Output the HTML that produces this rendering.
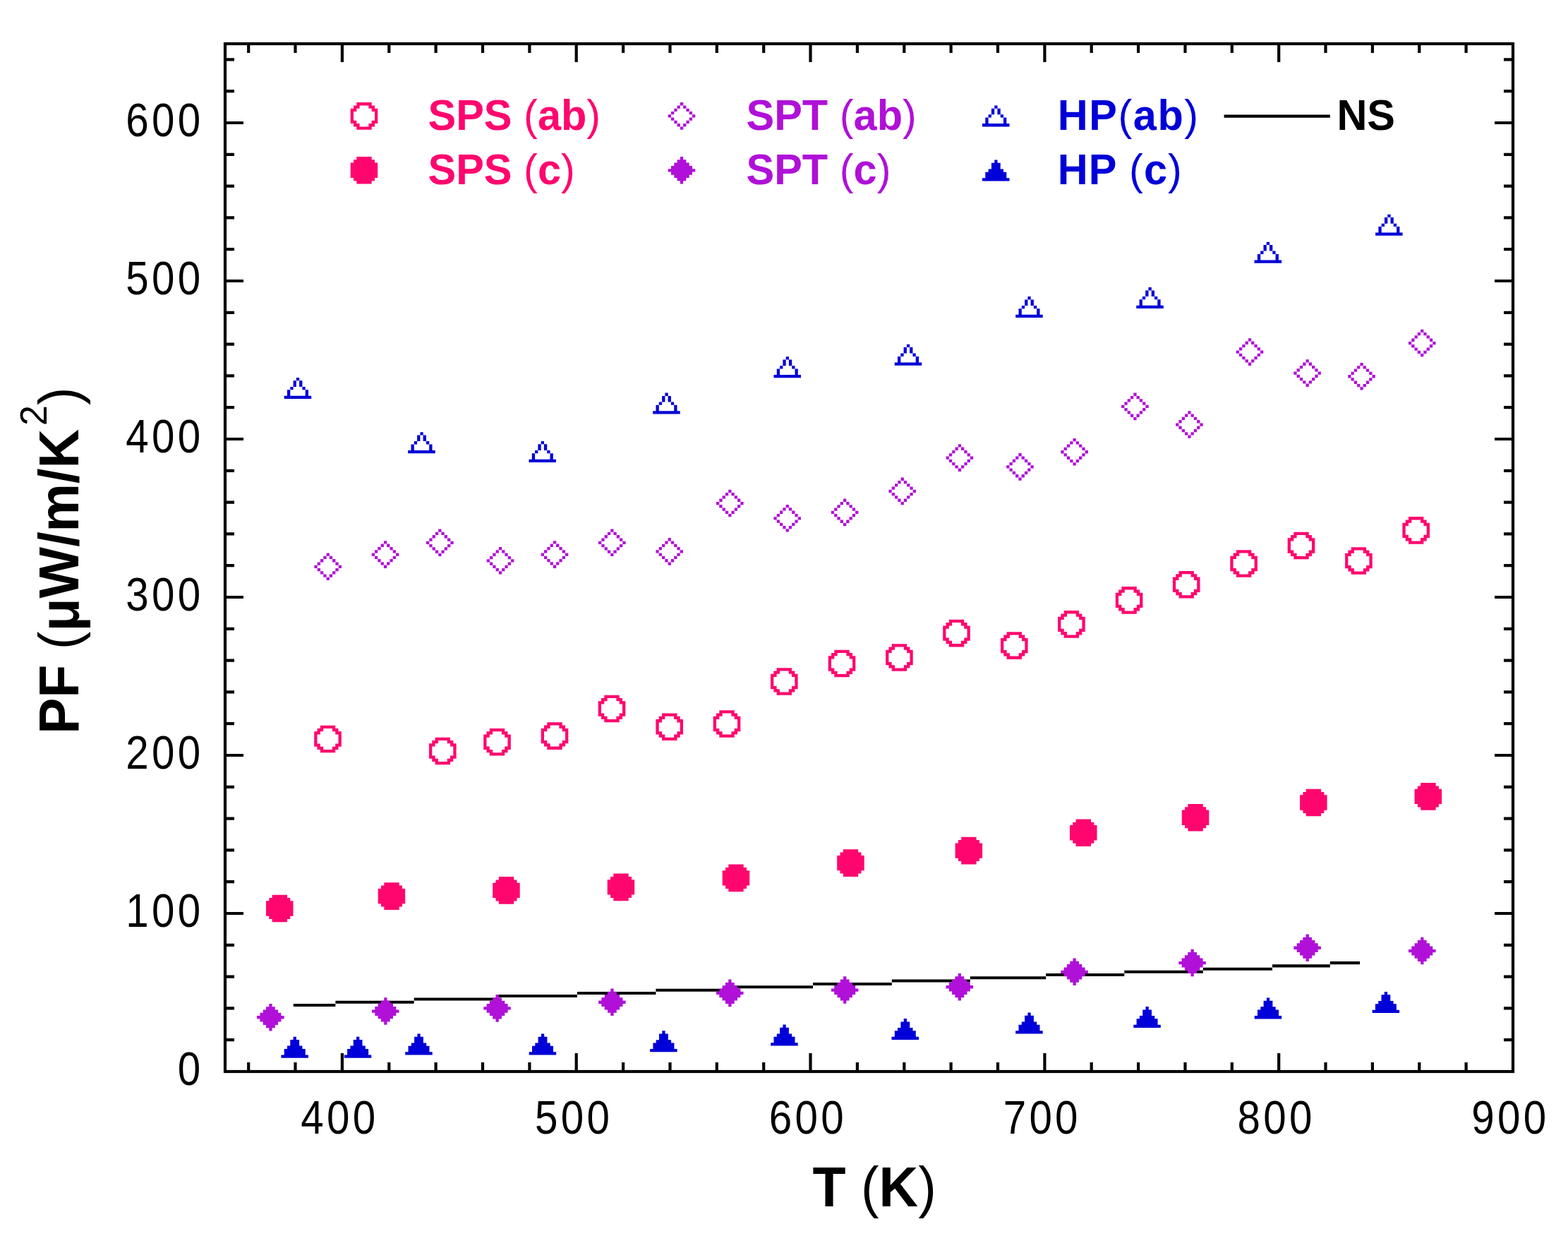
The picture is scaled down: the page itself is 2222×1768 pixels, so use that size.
<!DOCTYPE html>
<html><head><meta charset="utf-8"><title>PF vs T</title>
<style>
html,body{margin:0;padding:0;background:#fff;}
svg{display:block;}
</style></head>
<body>
<svg width="2222" height="1768" viewBox="0 0 2222 1768">
<rect width="2222" height="1768" fill="#fff"/>
<rect x="319" y="62" width="1825" height="1456" fill="none" stroke="#000" stroke-width="4.2"/>
<path d="M352.2 1518 v-13 M352.2 62 v13 M418.5 1518 v-13 M418.5 62 v13 M484.9 1518 v-26 M484.9 62 v26 M551.3 1518 v-13 M551.3 62 v13 M617.6 1518 v-13 M617.6 62 v13 M684.0 1518 v-13 M684.0 62 v13 M750.4 1518 v-13 M750.4 62 v13 M816.7 1518 v-26 M816.7 62 v26 M883.1 1518 v-13 M883.1 62 v13 M949.5 1518 v-13 M949.5 62 v13 M1015.8 1518 v-13 M1015.8 62 v13 M1082.2 1518 v-13 M1082.2 62 v13 M1148.5 1518 v-26 M1148.5 62 v26 M1214.9 1518 v-13 M1214.9 62 v13 M1281.3 1518 v-13 M1281.3 62 v13 M1347.6 1518 v-13 M1347.6 62 v13 M1414.0 1518 v-13 M1414.0 62 v13 M1480.4 1518 v-26 M1480.4 62 v26 M1546.7 1518 v-13 M1546.7 62 v13 M1613.1 1518 v-13 M1613.1 62 v13 M1679.5 1518 v-13 M1679.5 62 v13 M1745.8 1518 v-13 M1745.8 62 v13 M1812.2 1518 v-26 M1812.2 62 v26 M1878.5 1518 v-13 M1878.5 62 v13 M1944.9 1518 v-13 M1944.9 62 v13 M2011.3 1518 v-13 M2011.3 62 v13 M2077.6 1518 v-13 M2077.6 62 v13 M319 1473.2 h13 M2144 1473.2 h-13 M319 1428.4 h13 M2144 1428.4 h-13 M319 1383.6 h13 M2144 1383.6 h-13 M319 1338.8 h13 M2144 1338.8 h-13 M319 1294.0 h26 M2144 1294.0 h-26 M319 1249.2 h13 M2144 1249.2 h-13 M319 1204.4 h13 M2144 1204.4 h-13 M319 1159.6 h13 M2144 1159.6 h-13 M319 1114.8 h13 M2144 1114.8 h-13 M319 1070.0 h26 M2144 1070.0 h-26 M319 1025.2 h13 M2144 1025.2 h-13 M319 980.4 h13 M2144 980.4 h-13 M319 935.6 h13 M2144 935.6 h-13 M319 890.8 h13 M2144 890.8 h-13 M319 846.0 h26 M2144 846.0 h-26 M319 801.2 h13 M2144 801.2 h-13 M319 756.4 h13 M2144 756.4 h-13 M319 711.6 h13 M2144 711.6 h-13 M319 666.8 h13 M2144 666.8 h-13 M319 622.0 h26 M2144 622.0 h-26 M319 577.2 h13 M2144 577.2 h-13 M319 532.4 h13 M2144 532.4 h-13 M319 487.6 h13 M2144 487.6 h-13 M319 442.8 h13 M2144 442.8 h-13 M319 398.0 h26 M2144 398.0 h-26 M319 353.2 h13 M2144 353.2 h-13 M319 308.4 h13 M2144 308.4 h-13 M319 263.6 h13 M2144 263.6 h-13 M319 218.8 h13 M2144 218.8 h-13 M319 174.0 h26 M2144 174.0 h-26 M319 129.2 h13 M2144 129.2 h-13 M319 84.4 h13 M2144 84.4 h-13" stroke="#000" stroke-width="4.2" fill="none"/>
<g font-family="Liberation Sans, Arial, sans-serif" font-size="67" fill="#000">
<text transform="scale(0.87 1)" x="289.30" y="1537.0">0</text>
<text transform="scale(0.87 1)" x="204.94 247.12 289.30" y="1313.0">100</text>
<text transform="scale(0.87 1)" x="204.94 247.12 289.30" y="1089.0">200</text>
<text transform="scale(0.87 1)" x="204.94 247.12 289.30" y="865.0">300</text>
<text transform="scale(0.87 1)" x="204.94 247.12 289.30" y="641.0">400</text>
<text transform="scale(0.87 1)" x="204.94 247.12 289.30" y="417.0">500</text>
<text transform="scale(0.87 1)" x="204.94 247.12 289.30" y="193.0">600</text>
<text transform="scale(0.87 1)" x="489.94 532.12 574.30" y="1606.0">400</text>
<text transform="scale(0.87 1)" x="871.34 913.52 955.70" y="1606.0">500</text>
<text transform="scale(0.87 1)" x="1252.74 1294.92 1337.10" y="1606.0">600</text>
<text transform="scale(0.87 1)" x="1634.14 1676.32 1718.50" y="1606.0">700</text>
<text transform="scale(0.87 1)" x="2015.54 2057.72 2099.90" y="1606.0">800</text>
<text transform="scale(0.87 1)" x="2396.94 2439.12 2481.30" y="1606.0">900</text>
</g>
<path d="M415.8 1421.95H475.4v4.1H415.8zM475.4 1417.65H586.7v4.1H475.4zM586.7 1413.45H706.1v4.1H586.7zM706.1 1408.95H818v4.1H706.1zM818 1404.95H929.4v4.1H818zM929.4 1400.65H1040.5v4.1H929.4zM1040.5 1396.25H1152v4.1H1040.5zM1152 1391.95H1263.8v4.1H1152zM1263.8 1387.45H1374.8v4.1H1263.8zM1374.8 1383.15H1482.2v4.1H1374.8zM1482.2 1378.95H1593.3v4.1H1482.2zM1593.3 1374.75H1704.8v4.1H1593.3zM1704.8 1370.75H1803v4.1H1704.8zM1803 1366.35H1884.8v4.1H1803zM1884.8 1362.05H1927.1v4.1H1884.8z" fill="#000"/>
<path d="M453.8 1027.7h21.4v4.28h-21.4zM449.5 1032.0h8.6v4.28h-8.6zM470.9 1032.0h8.6v4.28h-8.6zM445.2 1036.3h8.6v4.28h-8.6zM475.2 1036.3h8.6v4.28h-8.6zM445.2 1040.6h4.3v4.28h-4.3zM479.5 1040.6h4.3v4.28h-4.3zM445.2 1044.9h4.3v4.28h-4.3zM479.5 1044.9h4.3v4.28h-4.3zM445.2 1049.1h4.3v4.28h-4.3zM479.5 1049.1h4.3v4.28h-4.3zM445.2 1053.4h8.6v4.28h-8.6zM475.2 1053.4h8.6v4.28h-8.6zM449.5 1057.7h8.6v4.28h-8.6zM470.9 1057.7h8.6v4.28h-8.6zM453.8 1062.0h21.4v4.28h-21.4z" fill="#ff066e"/>
<path d="M616.6 1044.7h21.4v4.28h-21.4zM612.3 1049.0h8.6v4.28h-8.6zM633.7 1049.0h8.6v4.28h-8.6zM608.0 1053.3h8.6v4.28h-8.6zM638.0 1053.3h8.6v4.28h-8.6zM608.0 1057.6h4.3v4.28h-4.3zM642.3 1057.6h4.3v4.28h-4.3zM608.0 1061.9h4.3v4.28h-4.3zM642.3 1061.9h4.3v4.28h-4.3zM608.0 1066.1h4.3v4.28h-4.3zM642.3 1066.1h4.3v4.28h-4.3zM608.0 1070.4h8.6v4.28h-8.6zM638.0 1070.4h8.6v4.28h-8.6zM612.3 1074.7h8.6v4.28h-8.6zM633.7 1074.7h8.6v4.28h-8.6zM616.6 1079.0h21.4v4.28h-21.4z" fill="#ff066e"/>
<path d="M693.8 1031.9h21.4v4.28h-21.4zM689.5 1036.2h8.6v4.28h-8.6zM710.9 1036.2h8.6v4.28h-8.6zM685.2 1040.5h8.6v4.28h-8.6zM715.2 1040.5h8.6v4.28h-8.6zM685.2 1044.8h4.3v4.28h-4.3zM719.5 1044.8h4.3v4.28h-4.3zM685.2 1049.1h4.3v4.28h-4.3zM719.5 1049.1h4.3v4.28h-4.3zM685.2 1053.3h4.3v4.28h-4.3zM719.5 1053.3h4.3v4.28h-4.3zM685.2 1057.6h8.6v4.28h-8.6zM715.2 1057.6h8.6v4.28h-8.6zM689.5 1061.9h8.6v4.28h-8.6zM710.9 1061.9h8.6v4.28h-8.6zM693.8 1066.2h21.4v4.28h-21.4z" fill="#ff066e"/>
<path d="M775.3 1023.3h21.4v4.28h-21.4zM771.0 1027.6h8.6v4.28h-8.6zM792.4 1027.6h8.6v4.28h-8.6zM766.7 1031.9h8.6v4.28h-8.6zM796.7 1031.9h8.6v4.28h-8.6zM766.7 1036.2h4.3v4.28h-4.3zM801.0 1036.2h4.3v4.28h-4.3zM766.7 1040.5h4.3v4.28h-4.3zM801.0 1040.5h4.3v4.28h-4.3zM766.7 1044.7h4.3v4.28h-4.3zM801.0 1044.7h4.3v4.28h-4.3zM766.7 1049.0h8.6v4.28h-8.6zM796.7 1049.0h8.6v4.28h-8.6zM771.0 1053.3h8.6v4.28h-8.6zM792.4 1053.3h8.6v4.28h-8.6zM775.3 1057.6h21.4v4.28h-21.4z" fill="#ff066e"/>
<path d="M856.3 984.7h21.4v4.28h-21.4zM852.0 989.0h8.6v4.28h-8.6zM873.4 989.0h8.6v4.28h-8.6zM847.7 993.3h8.6v4.28h-8.6zM877.7 993.3h8.6v4.28h-8.6zM847.7 997.6h4.3v4.28h-4.3zM882.0 997.6h4.3v4.28h-4.3zM847.7 1001.9h4.3v4.28h-4.3zM882.0 1001.9h4.3v4.28h-4.3zM847.7 1006.1h4.3v4.28h-4.3zM882.0 1006.1h4.3v4.28h-4.3zM847.7 1010.4h8.6v4.28h-8.6zM877.7 1010.4h8.6v4.28h-8.6zM852.0 1014.7h8.6v4.28h-8.6zM873.4 1014.7h8.6v4.28h-8.6zM856.3 1019.0h21.4v4.28h-21.4z" fill="#ff066e"/>
<path d="M938.0 1010.5h21.4v4.28h-21.4zM933.7 1014.8h8.6v4.28h-8.6zM955.1 1014.8h8.6v4.28h-8.6zM929.4 1019.1h8.6v4.28h-8.6zM959.4 1019.1h8.6v4.28h-8.6zM929.4 1023.4h4.3v4.28h-4.3zM963.7 1023.4h4.3v4.28h-4.3zM929.4 1027.7h4.3v4.28h-4.3zM963.7 1027.7h4.3v4.28h-4.3zM929.4 1031.9h4.3v4.28h-4.3zM963.7 1031.9h4.3v4.28h-4.3zM929.4 1036.2h8.6v4.28h-8.6zM959.4 1036.2h8.6v4.28h-8.6zM933.7 1040.5h8.6v4.28h-8.6zM955.1 1040.5h8.6v4.28h-8.6zM938.0 1044.8h21.4v4.28h-21.4z" fill="#ff066e"/>
<path d="M1019.3 1006.2h21.4v4.28h-21.4zM1015.0 1010.5h8.6v4.28h-8.6zM1036.4 1010.5h8.6v4.28h-8.6zM1010.7 1014.8h8.6v4.28h-8.6zM1040.7 1014.8h8.6v4.28h-8.6zM1010.7 1019.1h4.3v4.28h-4.3zM1045.0 1019.1h4.3v4.28h-4.3zM1010.7 1023.4h4.3v4.28h-4.3zM1045.0 1023.4h4.3v4.28h-4.3zM1010.7 1027.6h4.3v4.28h-4.3zM1045.0 1027.6h4.3v4.28h-4.3zM1010.7 1031.9h8.6v4.28h-8.6zM1040.7 1031.9h8.6v4.28h-8.6zM1015.0 1036.2h8.6v4.28h-8.6zM1036.4 1036.2h8.6v4.28h-8.6zM1019.3 1040.5h21.4v4.28h-21.4z" fill="#ff066e"/>
<path d="M1100.6 946.2h21.4v4.28h-21.4zM1096.3 950.5h8.6v4.28h-8.6zM1117.7 950.5h8.6v4.28h-8.6zM1092.0 954.8h8.6v4.28h-8.6zM1122.0 954.8h8.6v4.28h-8.6zM1092.0 959.1h4.3v4.28h-4.3zM1126.3 959.1h4.3v4.28h-4.3zM1092.0 963.4h4.3v4.28h-4.3zM1126.3 963.4h4.3v4.28h-4.3zM1092.0 967.6h4.3v4.28h-4.3zM1126.3 967.6h4.3v4.28h-4.3zM1092.0 971.9h8.6v4.28h-8.6zM1122.0 971.9h8.6v4.28h-8.6zM1096.3 976.2h8.6v4.28h-8.6zM1117.7 976.2h8.6v4.28h-8.6zM1100.6 980.5h21.4v4.28h-21.4z" fill="#ff066e"/>
<path d="M1182.3 920.7h21.4v4.28h-21.4zM1178.0 925.0h8.6v4.28h-8.6zM1199.4 925.0h8.6v4.28h-8.6zM1173.7 929.3h8.6v4.28h-8.6zM1203.7 929.3h8.6v4.28h-8.6zM1173.7 933.6h4.3v4.28h-4.3zM1208.0 933.6h4.3v4.28h-4.3zM1173.7 937.9h4.3v4.28h-4.3zM1208.0 937.9h4.3v4.28h-4.3zM1173.7 942.1h4.3v4.28h-4.3zM1208.0 942.1h4.3v4.28h-4.3zM1173.7 946.4h8.6v4.28h-8.6zM1203.7 946.4h8.6v4.28h-8.6zM1178.0 950.7h8.6v4.28h-8.6zM1199.4 950.7h8.6v4.28h-8.6zM1182.3 955.0h21.4v4.28h-21.4z" fill="#ff066e"/>
<path d="M1263.7 912.2h21.4v4.28h-21.4zM1259.4 916.5h8.6v4.28h-8.6zM1280.8 916.5h8.6v4.28h-8.6zM1255.1 920.8h8.6v4.28h-8.6zM1285.1 920.8h8.6v4.28h-8.6zM1255.1 925.1h4.3v4.28h-4.3zM1289.4 925.1h4.3v4.28h-4.3zM1255.1 929.4h4.3v4.28h-4.3zM1289.4 929.4h4.3v4.28h-4.3zM1255.1 933.6h4.3v4.28h-4.3zM1289.4 933.6h4.3v4.28h-4.3zM1255.1 937.9h8.6v4.28h-8.6zM1285.1 937.9h8.6v4.28h-8.6zM1259.4 942.2h8.6v4.28h-8.6zM1280.8 942.2h8.6v4.28h-8.6zM1263.7 946.5h21.4v4.28h-21.4z" fill="#ff066e"/>
<path d="M1344.8 877.8h21.4v4.28h-21.4zM1340.5 882.1h8.6v4.28h-8.6zM1361.9 882.1h8.6v4.28h-8.6zM1336.2 886.4h8.6v4.28h-8.6zM1366.2 886.4h8.6v4.28h-8.6zM1336.2 890.7h4.3v4.28h-4.3zM1370.5 890.7h4.3v4.28h-4.3zM1336.2 895.0h4.3v4.28h-4.3zM1370.5 895.0h4.3v4.28h-4.3zM1336.2 899.2h4.3v4.28h-4.3zM1370.5 899.2h4.3v4.28h-4.3zM1336.2 903.5h8.6v4.28h-8.6zM1366.2 903.5h8.6v4.28h-8.6zM1340.5 907.8h8.6v4.28h-8.6zM1361.9 907.8h8.6v4.28h-8.6zM1344.8 912.1h21.4v4.28h-21.4z" fill="#ff066e"/>
<path d="M1426.6 895.3h21.4v4.28h-21.4zM1422.3 899.6h8.6v4.28h-8.6zM1443.7 899.6h8.6v4.28h-8.6zM1418.0 903.9h8.6v4.28h-8.6zM1448.0 903.9h8.6v4.28h-8.6zM1418.0 908.2h4.3v4.28h-4.3zM1452.3 908.2h4.3v4.28h-4.3zM1418.0 912.5h4.3v4.28h-4.3zM1452.3 912.5h4.3v4.28h-4.3zM1418.0 916.7h4.3v4.28h-4.3zM1452.3 916.7h4.3v4.28h-4.3zM1418.0 921.0h8.6v4.28h-8.6zM1448.0 921.0h8.6v4.28h-8.6zM1422.3 925.3h8.6v4.28h-8.6zM1443.7 925.3h8.6v4.28h-8.6zM1426.6 929.6h21.4v4.28h-21.4z" fill="#ff066e"/>
<path d="M1507.7 865.1h21.4v4.28h-21.4zM1503.4 869.4h8.6v4.28h-8.6zM1524.8 869.4h8.6v4.28h-8.6zM1499.1 873.7h8.6v4.28h-8.6zM1529.1 873.7h8.6v4.28h-8.6zM1499.1 878.0h4.3v4.28h-4.3zM1533.4 878.0h4.3v4.28h-4.3zM1499.1 882.3h4.3v4.28h-4.3zM1533.4 882.3h4.3v4.28h-4.3zM1499.1 886.5h4.3v4.28h-4.3zM1533.4 886.5h4.3v4.28h-4.3zM1499.1 890.8h8.6v4.28h-8.6zM1529.1 890.8h8.6v4.28h-8.6zM1503.4 895.1h8.6v4.28h-8.6zM1524.8 895.1h8.6v4.28h-8.6zM1507.7 899.4h21.4v4.28h-21.4z" fill="#ff066e"/>
<path d="M1589.4 831.1h21.4v4.28h-21.4zM1585.1 835.4h8.6v4.28h-8.6zM1606.5 835.4h8.6v4.28h-8.6zM1580.8 839.7h8.6v4.28h-8.6zM1610.8 839.7h8.6v4.28h-8.6zM1580.8 844.0h4.3v4.28h-4.3zM1615.1 844.0h4.3v4.28h-4.3zM1580.8 848.3h4.3v4.28h-4.3zM1615.1 848.3h4.3v4.28h-4.3zM1580.8 852.5h4.3v4.28h-4.3zM1615.1 852.5h4.3v4.28h-4.3zM1580.8 856.8h8.6v4.28h-8.6zM1610.8 856.8h8.6v4.28h-8.6zM1585.1 861.1h8.6v4.28h-8.6zM1606.5 861.1h8.6v4.28h-8.6zM1589.4 865.4h21.4v4.28h-21.4z" fill="#ff066e"/>
<path d="M1670.5 809.0h21.4v4.28h-21.4zM1666.2 813.3h8.6v4.28h-8.6zM1687.6 813.3h8.6v4.28h-8.6zM1661.9 817.6h8.6v4.28h-8.6zM1691.9 817.6h8.6v4.28h-8.6zM1661.9 821.9h4.3v4.28h-4.3zM1696.2 821.9h4.3v4.28h-4.3zM1661.9 826.2h4.3v4.28h-4.3zM1696.2 826.2h4.3v4.28h-4.3zM1661.9 830.4h4.3v4.28h-4.3zM1696.2 830.4h4.3v4.28h-4.3zM1661.9 834.7h8.6v4.28h-8.6zM1691.9 834.7h8.6v4.28h-8.6zM1666.2 839.0h8.6v4.28h-8.6zM1687.6 839.0h8.6v4.28h-8.6zM1670.5 843.3h21.4v4.28h-21.4z" fill="#ff066e"/>
<path d="M1751.9 779.2h21.4v4.28h-21.4zM1747.6 783.5h8.6v4.28h-8.6zM1769.0 783.5h8.6v4.28h-8.6zM1743.3 787.8h8.6v4.28h-8.6zM1773.3 787.8h8.6v4.28h-8.6zM1743.3 792.1h4.3v4.28h-4.3zM1777.6 792.1h4.3v4.28h-4.3zM1743.3 796.4h4.3v4.28h-4.3zM1777.6 796.4h4.3v4.28h-4.3zM1743.3 800.6h4.3v4.28h-4.3zM1777.6 800.6h4.3v4.28h-4.3zM1743.3 804.9h8.6v4.28h-8.6zM1773.3 804.9h8.6v4.28h-8.6zM1747.6 809.2h8.6v4.28h-8.6zM1769.0 809.2h8.6v4.28h-8.6zM1751.9 813.5h21.4v4.28h-21.4z" fill="#ff066e"/>
<path d="M1833.3 753.7h21.4v4.28h-21.4zM1829.0 758.0h8.6v4.28h-8.6zM1850.4 758.0h8.6v4.28h-8.6zM1824.7 762.3h8.6v4.28h-8.6zM1854.7 762.3h8.6v4.28h-8.6zM1824.7 766.6h4.3v4.28h-4.3zM1859.0 766.6h4.3v4.28h-4.3zM1824.7 770.9h4.3v4.28h-4.3zM1859.0 770.9h4.3v4.28h-4.3zM1824.7 775.1h4.3v4.28h-4.3zM1859.0 775.1h4.3v4.28h-4.3zM1824.7 779.4h8.6v4.28h-8.6zM1854.7 779.4h8.6v4.28h-8.6zM1829.0 783.7h8.6v4.28h-8.6zM1850.4 783.7h8.6v4.28h-8.6zM1833.3 788.0h21.4v4.28h-21.4z" fill="#ff066e"/>
<path d="M1914.7 775.2h21.4v4.28h-21.4zM1910.4 779.5h8.6v4.28h-8.6zM1931.8 779.5h8.6v4.28h-8.6zM1906.1 783.8h8.6v4.28h-8.6zM1936.1 783.8h8.6v4.28h-8.6zM1906.1 788.1h4.3v4.28h-4.3zM1940.4 788.1h4.3v4.28h-4.3zM1906.1 792.4h4.3v4.28h-4.3zM1940.4 792.4h4.3v4.28h-4.3zM1906.1 796.6h4.3v4.28h-4.3zM1940.4 796.6h4.3v4.28h-4.3zM1906.1 800.9h8.6v4.28h-8.6zM1936.1 800.9h8.6v4.28h-8.6zM1910.4 805.2h8.6v4.28h-8.6zM1931.8 805.2h8.6v4.28h-8.6zM1914.7 809.5h21.4v4.28h-21.4z" fill="#ff066e"/>
<path d="M1996.0 732.1h21.4v4.28h-21.4zM1991.7 736.4h8.6v4.28h-8.6zM2013.1 736.4h8.6v4.28h-8.6zM1987.4 740.7h8.6v4.28h-8.6zM2017.4 740.7h8.6v4.28h-8.6zM1987.4 745.0h4.3v4.28h-4.3zM2021.7 745.0h4.3v4.28h-4.3zM1987.4 749.3h4.3v4.28h-4.3zM2021.7 749.3h4.3v4.28h-4.3zM1987.4 753.5h4.3v4.28h-4.3zM2021.7 753.5h4.3v4.28h-4.3zM1987.4 757.8h8.6v4.28h-8.6zM2017.4 757.8h8.6v4.28h-8.6zM1991.7 762.1h8.6v4.28h-8.6zM2013.1 762.1h8.6v4.28h-8.6zM1996.0 766.4h21.4v4.28h-21.4z" fill="#ff066e"/>
<path d="M385.6 1267.7h21.4v4.28h-21.4zM381.3 1272.0h30.0v4.28h-30.0zM377.0 1276.3h38.5v4.28h-38.5zM377.0 1280.6h38.5v4.28h-38.5zM377.0 1284.9h38.5v4.28h-38.5zM377.0 1289.1h38.5v4.28h-38.5zM377.0 1293.4h38.5v4.28h-38.5zM381.3 1297.7h30.0v4.28h-30.0zM385.6 1302.0h21.4v4.28h-21.4z" fill="#ff066e"/>
<path d="M544.3 1250.3h21.4v4.28h-21.4zM540.0 1254.6h30.0v4.28h-30.0zM535.7 1258.9h38.5v4.28h-38.5zM535.7 1263.2h38.5v4.28h-38.5zM535.7 1267.5h38.5v4.28h-38.5zM535.7 1271.7h38.5v4.28h-38.5zM535.7 1276.0h38.5v4.28h-38.5zM540.0 1280.3h30.0v4.28h-30.0zM544.3 1284.6h21.4v4.28h-21.4z" fill="#ff066e"/>
<path d="M706.8 1242.1h21.4v4.28h-21.4zM702.5 1246.4h30.0v4.28h-30.0zM698.2 1250.7h38.5v4.28h-38.5zM698.2 1255.0h38.5v4.28h-38.5zM698.2 1259.3h38.5v4.28h-38.5zM698.2 1263.5h38.5v4.28h-38.5zM698.2 1267.8h38.5v4.28h-38.5zM702.5 1272.1h30.0v4.28h-30.0zM706.8 1276.4h21.4v4.28h-21.4z" fill="#ff066e"/>
<path d="M869.3 1237.6h21.4v4.28h-21.4zM865.0 1241.9h30.0v4.28h-30.0zM860.7 1246.2h38.5v4.28h-38.5zM860.7 1250.5h38.5v4.28h-38.5zM860.7 1254.8h38.5v4.28h-38.5zM860.7 1259.0h38.5v4.28h-38.5zM860.7 1263.3h38.5v4.28h-38.5zM865.0 1267.6h30.0v4.28h-30.0zM869.3 1271.9h21.4v4.28h-21.4z" fill="#ff066e"/>
<path d="M1032.3 1224.6h21.4v4.28h-21.4zM1028.0 1228.9h30.0v4.28h-30.0zM1023.7 1233.2h38.5v4.28h-38.5zM1023.7 1237.5h38.5v4.28h-38.5zM1023.7 1241.8h38.5v4.28h-38.5zM1023.7 1246.0h38.5v4.28h-38.5zM1023.7 1250.3h38.5v4.28h-38.5zM1028.0 1254.6h30.0v4.28h-30.0zM1032.3 1258.9h21.4v4.28h-21.4z" fill="#ff066e"/>
<path d="M1194.8 1203.3h21.4v4.28h-21.4zM1190.5 1207.6h30.0v4.28h-30.0zM1186.2 1211.9h38.5v4.28h-38.5zM1186.2 1216.2h38.5v4.28h-38.5zM1186.2 1220.5h38.5v4.28h-38.5zM1186.2 1224.7h38.5v4.28h-38.5zM1186.2 1229.0h38.5v4.28h-38.5zM1190.5 1233.3h30.0v4.28h-30.0zM1194.8 1237.6h21.4v4.28h-21.4z" fill="#ff066e"/>
<path d="M1362.2 1185.8h21.4v4.28h-21.4zM1357.9 1190.1h30.0v4.28h-30.0zM1353.6 1194.4h38.5v4.28h-38.5zM1353.6 1198.7h38.5v4.28h-38.5zM1353.6 1203.0h38.5v4.28h-38.5zM1353.6 1207.2h38.5v4.28h-38.5zM1353.6 1211.5h38.5v4.28h-38.5zM1357.9 1215.8h30.0v4.28h-30.0zM1362.2 1220.1h21.4v4.28h-21.4z" fill="#ff066e"/>
<path d="M1524.6 1160.5h21.4v4.28h-21.4zM1520.3 1164.8h30.0v4.28h-30.0zM1516.0 1169.1h38.5v4.28h-38.5zM1516.0 1173.4h38.5v4.28h-38.5zM1516.0 1177.7h38.5v4.28h-38.5zM1516.0 1181.9h38.5v4.28h-38.5zM1516.0 1186.2h38.5v4.28h-38.5zM1520.3 1190.5h30.0v4.28h-30.0zM1524.6 1194.8h21.4v4.28h-21.4z" fill="#ff066e"/>
<path d="M1683.4 1138.9h21.4v4.28h-21.4zM1679.1 1143.2h30.0v4.28h-30.0zM1674.8 1147.5h38.5v4.28h-38.5zM1674.8 1151.8h38.5v4.28h-38.5zM1674.8 1156.1h38.5v4.28h-38.5zM1674.8 1160.3h38.5v4.28h-38.5zM1674.8 1164.6h38.5v4.28h-38.5zM1679.1 1168.9h30.0v4.28h-30.0zM1683.4 1173.2h21.4v4.28h-21.4z" fill="#ff066e"/>
<path d="M1850.7 1117.7h21.4v4.28h-21.4zM1846.4 1122.0h30.0v4.28h-30.0zM1842.1 1126.3h38.5v4.28h-38.5zM1842.1 1130.6h38.5v4.28h-38.5zM1842.1 1134.9h38.5v4.28h-38.5zM1842.1 1139.1h38.5v4.28h-38.5zM1842.1 1143.4h38.5v4.28h-38.5zM1846.4 1147.7h30.0v4.28h-30.0zM1850.7 1152.0h21.4v4.28h-21.4z" fill="#ff066e"/>
<path d="M2013.2 1109.1h21.4v4.28h-21.4zM2008.9 1113.4h30.0v4.28h-30.0zM2004.6 1117.7h38.5v4.28h-38.5zM2004.6 1122.0h38.5v4.28h-38.5zM2004.6 1126.3h38.5v4.28h-38.5zM2004.6 1130.5h38.5v4.28h-38.5zM2004.6 1134.8h38.5v4.28h-38.5zM2008.9 1139.1h30.0v4.28h-30.0zM2013.2 1143.4h21.4v4.28h-21.4z" fill="#ff066e"/>
<path d="M462.6 783.5h4.3v4.28h-4.3zM458.3 787.8h4.3v4.28h-4.3zM466.8 787.8h4.3v4.28h-4.3zM454.0 792.1h4.3v4.28h-4.3zM471.1 792.1h4.3v4.28h-4.3zM449.7 796.4h4.3v4.28h-4.3zM475.4 796.4h4.3v4.28h-4.3zM445.4 800.7h4.3v4.28h-4.3zM479.7 800.7h4.3v4.28h-4.3zM449.7 804.9h4.3v4.28h-4.3zM475.4 804.9h4.3v4.28h-4.3zM454.0 809.2h4.3v4.28h-4.3zM471.1 809.2h4.3v4.28h-4.3zM458.3 813.5h4.3v4.28h-4.3zM466.8 813.5h4.3v4.28h-4.3zM462.6 817.8h4.3v4.28h-4.3z" fill="#b010d8"/>
<path d="M543.9 766.3h4.3v4.28h-4.3zM539.6 770.6h4.3v4.28h-4.3zM548.1 770.6h4.3v4.28h-4.3zM535.3 774.9h4.3v4.28h-4.3zM552.4 774.9h4.3v4.28h-4.3zM531.0 779.2h4.3v4.28h-4.3zM556.7 779.2h4.3v4.28h-4.3zM526.7 783.5h4.3v4.28h-4.3zM561.0 783.5h4.3v4.28h-4.3zM531.0 787.7h4.3v4.28h-4.3zM556.7 787.7h4.3v4.28h-4.3zM535.3 792.0h4.3v4.28h-4.3zM552.4 792.0h4.3v4.28h-4.3zM539.6 796.3h4.3v4.28h-4.3zM548.1 796.3h4.3v4.28h-4.3zM543.9 800.6h4.3v4.28h-4.3z" fill="#b010d8"/>
<path d="M621.2 749.5h4.3v4.28h-4.3zM616.9 753.8h4.3v4.28h-4.3zM625.4 753.8h4.3v4.28h-4.3zM612.6 758.1h4.3v4.28h-4.3zM629.7 758.1h4.3v4.28h-4.3zM608.3 762.4h4.3v4.28h-4.3zM634.0 762.4h4.3v4.28h-4.3zM604.0 766.7h4.3v4.28h-4.3zM638.3 766.7h4.3v4.28h-4.3zM608.3 770.9h4.3v4.28h-4.3zM634.0 770.9h4.3v4.28h-4.3zM612.6 775.2h4.3v4.28h-4.3zM629.7 775.2h4.3v4.28h-4.3zM616.9 779.5h4.3v4.28h-4.3zM625.4 779.5h4.3v4.28h-4.3zM621.2 783.8h4.3v4.28h-4.3z" fill="#b010d8"/>
<path d="M706.9 775.0h4.3v4.28h-4.3zM702.6 779.3h4.3v4.28h-4.3zM711.1 779.3h4.3v4.28h-4.3zM698.3 783.6h4.3v4.28h-4.3zM715.4 783.6h4.3v4.28h-4.3zM694.0 787.9h4.3v4.28h-4.3zM719.7 787.9h4.3v4.28h-4.3zM689.7 792.2h4.3v4.28h-4.3zM724.0 792.2h4.3v4.28h-4.3zM694.0 796.4h4.3v4.28h-4.3zM719.7 796.4h4.3v4.28h-4.3zM698.3 800.7h4.3v4.28h-4.3zM715.4 800.7h4.3v4.28h-4.3zM702.6 805.0h4.3v4.28h-4.3zM711.1 805.0h4.3v4.28h-4.3zM706.9 809.3h4.3v4.28h-4.3z" fill="#b010d8"/>
<path d="M783.9 766.3h4.3v4.28h-4.3zM779.6 770.6h4.3v4.28h-4.3zM788.1 770.6h4.3v4.28h-4.3zM775.3 774.9h4.3v4.28h-4.3zM792.4 774.9h4.3v4.28h-4.3zM771.0 779.2h4.3v4.28h-4.3zM796.7 779.2h4.3v4.28h-4.3zM766.7 783.5h4.3v4.28h-4.3zM801.0 783.5h4.3v4.28h-4.3zM771.0 787.7h4.3v4.28h-4.3zM796.7 787.7h4.3v4.28h-4.3zM775.3 792.0h4.3v4.28h-4.3zM792.4 792.0h4.3v4.28h-4.3zM779.6 796.3h4.3v4.28h-4.3zM788.1 796.3h4.3v4.28h-4.3zM783.9 800.6h4.3v4.28h-4.3z" fill="#b010d8"/>
<path d="M865.2 749.5h4.3v4.28h-4.3zM860.9 753.8h4.3v4.28h-4.3zM869.4 753.8h4.3v4.28h-4.3zM856.6 758.1h4.3v4.28h-4.3zM873.7 758.1h4.3v4.28h-4.3zM852.3 762.4h4.3v4.28h-4.3zM878.0 762.4h4.3v4.28h-4.3zM848.0 766.7h4.3v4.28h-4.3zM882.3 766.7h4.3v4.28h-4.3zM852.3 770.9h4.3v4.28h-4.3zM878.0 770.9h4.3v4.28h-4.3zM856.6 775.2h4.3v4.28h-4.3zM873.7 775.2h4.3v4.28h-4.3zM860.9 779.5h4.3v4.28h-4.3zM869.4 779.5h4.3v4.28h-4.3zM865.2 783.8h4.3v4.28h-4.3z" fill="#b010d8"/>
<path d="M946.6 762.1h4.3v4.28h-4.3zM942.3 766.4h4.3v4.28h-4.3zM950.8 766.4h4.3v4.28h-4.3zM938.0 770.7h4.3v4.28h-4.3zM955.1 770.7h4.3v4.28h-4.3zM933.7 775.0h4.3v4.28h-4.3zM959.4 775.0h4.3v4.28h-4.3zM929.4 779.3h4.3v4.28h-4.3zM963.7 779.3h4.3v4.28h-4.3zM933.7 783.5h4.3v4.28h-4.3zM959.4 783.5h4.3v4.28h-4.3zM938.0 787.8h4.3v4.28h-4.3zM955.1 787.8h4.3v4.28h-4.3zM942.3 792.1h4.3v4.28h-4.3zM950.8 792.1h4.3v4.28h-4.3zM946.6 796.4h4.3v4.28h-4.3z" fill="#b010d8"/>
<path d="M1032.2 693.7h4.3v4.28h-4.3zM1027.9 698.0h4.3v4.28h-4.3zM1036.4 698.0h4.3v4.28h-4.3zM1023.6 702.3h4.3v4.28h-4.3zM1040.7 702.3h4.3v4.28h-4.3zM1019.3 706.6h4.3v4.28h-4.3zM1045.0 706.6h4.3v4.28h-4.3zM1015.0 710.9h4.3v4.28h-4.3zM1049.3 710.9h4.3v4.28h-4.3zM1019.3 715.1h4.3v4.28h-4.3zM1045.0 715.1h4.3v4.28h-4.3zM1023.6 719.4h4.3v4.28h-4.3zM1040.7 719.4h4.3v4.28h-4.3zM1027.9 723.7h4.3v4.28h-4.3zM1036.4 723.7h4.3v4.28h-4.3zM1032.2 728.0h4.3v4.28h-4.3z" fill="#b010d8"/>
<path d="M1113.6 715.0h4.3v4.28h-4.3zM1109.3 719.3h4.3v4.28h-4.3zM1117.8 719.3h4.3v4.28h-4.3zM1105.0 723.6h4.3v4.28h-4.3zM1122.1 723.6h4.3v4.28h-4.3zM1100.7 727.9h4.3v4.28h-4.3zM1126.4 727.9h4.3v4.28h-4.3zM1096.4 732.2h4.3v4.28h-4.3zM1130.7 732.2h4.3v4.28h-4.3zM1100.7 736.4h4.3v4.28h-4.3zM1126.4 736.4h4.3v4.28h-4.3zM1105.0 740.7h4.3v4.28h-4.3zM1122.1 740.7h4.3v4.28h-4.3zM1109.3 745.0h4.3v4.28h-4.3zM1117.8 745.0h4.3v4.28h-4.3zM1113.6 749.3h4.3v4.28h-4.3z" fill="#b010d8"/>
<path d="M1195.0 706.6h4.3v4.28h-4.3zM1190.7 710.9h4.3v4.28h-4.3zM1199.2 710.9h4.3v4.28h-4.3zM1186.4 715.2h4.3v4.28h-4.3zM1203.5 715.2h4.3v4.28h-4.3zM1182.1 719.5h4.3v4.28h-4.3zM1207.8 719.5h4.3v4.28h-4.3zM1177.8 723.8h4.3v4.28h-4.3zM1212.1 723.8h4.3v4.28h-4.3zM1182.1 728.0h4.3v4.28h-4.3zM1207.8 728.0h4.3v4.28h-4.3zM1186.4 732.3h4.3v4.28h-4.3zM1203.5 732.3h4.3v4.28h-4.3zM1190.7 736.6h4.3v4.28h-4.3zM1199.2 736.6h4.3v4.28h-4.3zM1195.0 740.9h4.3v4.28h-4.3z" fill="#b010d8"/>
<path d="M1276.6 676.6h4.3v4.28h-4.3zM1272.3 680.9h4.3v4.28h-4.3zM1280.8 680.9h4.3v4.28h-4.3zM1268.0 685.2h4.3v4.28h-4.3zM1285.1 685.2h4.3v4.28h-4.3zM1263.7 689.5h4.3v4.28h-4.3zM1289.4 689.5h4.3v4.28h-4.3zM1259.4 693.8h4.3v4.28h-4.3zM1293.7 693.8h4.3v4.28h-4.3zM1263.7 698.0h4.3v4.28h-4.3zM1289.4 698.0h4.3v4.28h-4.3zM1268.0 702.3h4.3v4.28h-4.3zM1285.1 702.3h4.3v4.28h-4.3zM1272.3 706.6h4.3v4.28h-4.3zM1280.8 706.6h4.3v4.28h-4.3zM1276.6 710.9h4.3v4.28h-4.3z" fill="#b010d8"/>
<path d="M1357.8 629.3h4.3v4.28h-4.3zM1353.5 633.6h4.3v4.28h-4.3zM1362.0 633.6h4.3v4.28h-4.3zM1349.2 637.9h4.3v4.28h-4.3zM1366.3 637.9h4.3v4.28h-4.3zM1344.9 642.2h4.3v4.28h-4.3zM1370.6 642.2h4.3v4.28h-4.3zM1340.6 646.5h4.3v4.28h-4.3zM1374.9 646.5h4.3v4.28h-4.3zM1344.9 650.7h4.3v4.28h-4.3zM1370.6 650.7h4.3v4.28h-4.3zM1349.2 655.0h4.3v4.28h-4.3zM1366.3 655.0h4.3v4.28h-4.3zM1353.5 659.3h4.3v4.28h-4.3zM1362.0 659.3h4.3v4.28h-4.3zM1357.8 663.6h4.3v4.28h-4.3z" fill="#b010d8"/>
<path d="M1443.4 642.1h4.3v4.28h-4.3zM1439.1 646.4h4.3v4.28h-4.3zM1447.6 646.4h4.3v4.28h-4.3zM1434.8 650.7h4.3v4.28h-4.3zM1451.9 650.7h4.3v4.28h-4.3zM1430.5 655.0h4.3v4.28h-4.3zM1456.2 655.0h4.3v4.28h-4.3zM1426.2 659.3h4.3v4.28h-4.3zM1460.5 659.3h4.3v4.28h-4.3zM1430.5 663.5h4.3v4.28h-4.3zM1456.2 663.5h4.3v4.28h-4.3zM1434.8 667.8h4.3v4.28h-4.3zM1451.9 667.8h4.3v4.28h-4.3zM1439.1 672.1h4.3v4.28h-4.3zM1447.6 672.1h4.3v4.28h-4.3zM1443.4 676.4h4.3v4.28h-4.3z" fill="#b010d8"/>
<path d="M1520.5 620.9h4.3v4.28h-4.3zM1516.2 625.2h4.3v4.28h-4.3zM1524.7 625.2h4.3v4.28h-4.3zM1511.9 629.5h4.3v4.28h-4.3zM1529.0 629.5h4.3v4.28h-4.3zM1507.6 633.8h4.3v4.28h-4.3zM1533.3 633.8h4.3v4.28h-4.3zM1503.3 638.1h4.3v4.28h-4.3zM1537.6 638.1h4.3v4.28h-4.3zM1507.6 642.3h4.3v4.28h-4.3zM1533.3 642.3h4.3v4.28h-4.3zM1511.9 646.6h4.3v4.28h-4.3zM1529.0 646.6h4.3v4.28h-4.3zM1516.2 650.9h4.3v4.28h-4.3zM1524.7 650.9h4.3v4.28h-4.3zM1520.5 655.2h4.3v4.28h-4.3z" fill="#b010d8"/>
<path d="M1606.3 556.6h4.3v4.28h-4.3zM1602.0 560.9h4.3v4.28h-4.3zM1610.5 560.9h4.3v4.28h-4.3zM1597.7 565.2h4.3v4.28h-4.3zM1614.8 565.2h4.3v4.28h-4.3zM1593.4 569.5h4.3v4.28h-4.3zM1619.1 569.5h4.3v4.28h-4.3zM1589.1 573.8h4.3v4.28h-4.3zM1623.4 573.8h4.3v4.28h-4.3zM1593.4 578.0h4.3v4.28h-4.3zM1619.1 578.0h4.3v4.28h-4.3zM1597.7 582.3h4.3v4.28h-4.3zM1614.8 582.3h4.3v4.28h-4.3zM1602.0 586.6h4.3v4.28h-4.3zM1610.5 586.6h4.3v4.28h-4.3zM1606.3 590.9h4.3v4.28h-4.3z" fill="#b010d8"/>
<path d="M1683.3 582.2h4.3v4.28h-4.3zM1679.0 586.5h4.3v4.28h-4.3zM1687.5 586.5h4.3v4.28h-4.3zM1674.7 590.8h4.3v4.28h-4.3zM1691.8 590.8h4.3v4.28h-4.3zM1670.4 595.1h4.3v4.28h-4.3zM1696.1 595.1h4.3v4.28h-4.3zM1666.1 599.4h4.3v4.28h-4.3zM1700.4 599.4h4.3v4.28h-4.3zM1670.4 603.6h4.3v4.28h-4.3zM1696.1 603.6h4.3v4.28h-4.3zM1674.7 607.9h4.3v4.28h-4.3zM1691.8 607.9h4.3v4.28h-4.3zM1679.0 612.2h4.3v4.28h-4.3zM1687.5 612.2h4.3v4.28h-4.3zM1683.3 616.5h4.3v4.28h-4.3z" fill="#b010d8"/>
<path d="M1768.9 479.3h4.3v4.28h-4.3zM1764.6 483.6h4.3v4.28h-4.3zM1773.1 483.6h4.3v4.28h-4.3zM1760.3 487.9h4.3v4.28h-4.3zM1777.4 487.9h4.3v4.28h-4.3zM1756.0 492.2h4.3v4.28h-4.3zM1781.7 492.2h4.3v4.28h-4.3zM1751.7 496.5h4.3v4.28h-4.3zM1786.0 496.5h4.3v4.28h-4.3zM1756.0 500.7h4.3v4.28h-4.3zM1781.7 500.7h4.3v4.28h-4.3zM1760.3 505.0h4.3v4.28h-4.3zM1777.4 505.0h4.3v4.28h-4.3zM1764.6 509.3h4.3v4.28h-4.3zM1773.1 509.3h4.3v4.28h-4.3zM1768.9 513.6h4.3v4.28h-4.3z" fill="#b010d8"/>
<path d="M1850.5 509.3h4.3v4.28h-4.3zM1846.2 513.6h4.3v4.28h-4.3zM1854.7 513.6h4.3v4.28h-4.3zM1841.9 517.9h4.3v4.28h-4.3zM1859.0 517.9h4.3v4.28h-4.3zM1837.6 522.2h4.3v4.28h-4.3zM1863.3 522.2h4.3v4.28h-4.3zM1833.3 526.5h4.3v4.28h-4.3zM1867.6 526.5h4.3v4.28h-4.3zM1837.6 530.7h4.3v4.28h-4.3zM1863.3 530.7h4.3v4.28h-4.3zM1841.9 535.0h4.3v4.28h-4.3zM1859.0 535.0h4.3v4.28h-4.3zM1846.2 539.3h4.3v4.28h-4.3zM1854.7 539.3h4.3v4.28h-4.3zM1850.5 543.6h4.3v4.28h-4.3z" fill="#b010d8"/>
<path d="M1927.4 513.9h4.3v4.28h-4.3zM1923.1 518.2h4.3v4.28h-4.3zM1931.6 518.2h4.3v4.28h-4.3zM1918.8 522.5h4.3v4.28h-4.3zM1935.9 522.5h4.3v4.28h-4.3zM1914.5 526.8h4.3v4.28h-4.3zM1940.2 526.8h4.3v4.28h-4.3zM1910.2 531.1h4.3v4.28h-4.3zM1944.5 531.1h4.3v4.28h-4.3zM1914.5 535.3h4.3v4.28h-4.3zM1940.2 535.3h4.3v4.28h-4.3zM1918.8 539.6h4.3v4.28h-4.3zM1935.9 539.6h4.3v4.28h-4.3zM1923.1 543.9h4.3v4.28h-4.3zM1931.6 543.9h4.3v4.28h-4.3zM1927.4 548.2h4.3v4.28h-4.3z" fill="#b010d8"/>
<path d="M2013.1 466.7h4.3v4.28h-4.3zM2008.8 471.0h4.3v4.28h-4.3zM2017.3 471.0h4.3v4.28h-4.3zM2004.5 475.3h4.3v4.28h-4.3zM2021.6 475.3h4.3v4.28h-4.3zM2000.2 479.6h4.3v4.28h-4.3zM2025.9 479.6h4.3v4.28h-4.3zM1995.9 483.9h4.3v4.28h-4.3zM2030.2 483.9h4.3v4.28h-4.3zM2000.2 488.1h4.3v4.28h-4.3zM2025.9 488.1h4.3v4.28h-4.3zM2004.5 492.4h4.3v4.28h-4.3zM2021.6 492.4h4.3v4.28h-4.3zM2008.8 496.7h4.3v4.28h-4.3zM2017.3 496.7h4.3v4.28h-4.3zM2013.1 501.0h4.3v4.28h-4.3z" fill="#b010d8"/>
<path d="M381.3 1421.9h4.3v4.28h-4.3zM377.0 1426.2h12.8v4.28h-12.8zM372.7 1430.5h21.4v4.28h-21.4zM368.4 1434.8h30.0v4.28h-30.0zM364.1 1439.1h38.5v4.28h-38.5zM368.4 1443.3h30.0v4.28h-30.0zM372.7 1447.6h21.4v4.28h-21.4zM377.0 1451.9h12.8v4.28h-12.8zM381.3 1456.2h4.3v4.28h-4.3z" fill="#b010d8"/>
<path d="M544.2 1413.2h4.3v4.28h-4.3zM539.9 1417.5h12.8v4.28h-12.8zM535.6 1421.8h21.4v4.28h-21.4zM531.3 1426.1h30.0v4.28h-30.0zM527.0 1430.4h38.5v4.28h-38.5zM531.3 1434.6h30.0v4.28h-30.0zM535.6 1438.9h21.4v4.28h-21.4zM539.9 1443.2h12.8v4.28h-12.8zM544.2 1447.5h4.3v4.28h-4.3z" fill="#b010d8"/>
<path d="M702.5 1409.1h4.3v4.28h-4.3zM698.2 1413.4h12.8v4.28h-12.8zM693.9 1417.7h21.4v4.28h-21.4zM689.6 1422.0h30.0v4.28h-30.0zM685.3 1426.3h38.5v4.28h-38.5zM689.6 1430.5h30.0v4.28h-30.0zM693.9 1434.8h21.4v4.28h-21.4zM698.2 1439.1h12.8v4.28h-12.8zM702.5 1443.4h4.3v4.28h-4.3z" fill="#b010d8"/>
<path d="M865.3 1400.4h4.3v4.28h-4.3zM861.0 1404.7h12.8v4.28h-12.8zM856.7 1409.0h21.4v4.28h-21.4zM852.4 1413.3h30.0v4.28h-30.0zM848.1 1417.6h38.5v4.28h-38.5zM852.4 1421.8h30.0v4.28h-30.0zM856.7 1426.1h21.4v4.28h-21.4zM861.0 1430.4h12.8v4.28h-12.8zM865.3 1434.7h4.3v4.28h-4.3z" fill="#b010d8"/>
<path d="M1032.2 1387.6h4.3v4.28h-4.3zM1027.9 1391.9h12.8v4.28h-12.8zM1023.6 1396.2h21.4v4.28h-21.4zM1019.3 1400.5h30.0v4.28h-30.0zM1015.0 1404.8h38.5v4.28h-38.5zM1019.3 1409.0h30.0v4.28h-30.0zM1023.6 1413.3h21.4v4.28h-21.4zM1027.9 1417.6h12.8v4.28h-12.8zM1032.2 1421.9h4.3v4.28h-4.3z" fill="#b010d8"/>
<path d="M1195.1 1383.2h4.3v4.28h-4.3zM1190.8 1387.5h12.8v4.28h-12.8zM1186.5 1391.8h21.4v4.28h-21.4zM1182.2 1396.1h30.0v4.28h-30.0zM1177.9 1400.4h38.5v4.28h-38.5zM1182.2 1404.6h30.0v4.28h-30.0zM1186.5 1408.9h21.4v4.28h-21.4zM1190.8 1413.2h12.8v4.28h-12.8zM1195.1 1417.5h4.3v4.28h-4.3z" fill="#b010d8"/>
<path d="M1357.7 1378.9h4.3v4.28h-4.3zM1353.4 1383.2h12.8v4.28h-12.8zM1349.1 1387.5h21.4v4.28h-21.4zM1344.8 1391.8h30.0v4.28h-30.0zM1340.5 1396.1h38.5v4.28h-38.5zM1344.8 1400.3h30.0v4.28h-30.0zM1349.1 1404.6h21.4v4.28h-21.4zM1353.4 1408.9h12.8v4.28h-12.8zM1357.7 1413.2h4.3v4.28h-4.3z" fill="#b010d8"/>
<path d="M1520.5 1357.5h4.3v4.28h-4.3zM1516.2 1361.8h12.8v4.28h-12.8zM1511.9 1366.1h21.4v4.28h-21.4zM1507.6 1370.4h30.0v4.28h-30.0zM1503.3 1374.7h38.5v4.28h-38.5zM1507.6 1378.9h30.0v4.28h-30.0zM1511.9 1383.2h21.4v4.28h-21.4zM1516.2 1387.5h12.8v4.28h-12.8zM1520.5 1391.8h4.3v4.28h-4.3z" fill="#b010d8"/>
<path d="M1687.5 1344.7h4.3v4.28h-4.3zM1683.2 1349.0h12.8v4.28h-12.8zM1678.9 1353.3h21.4v4.28h-21.4zM1674.6 1357.6h30.0v4.28h-30.0zM1670.3 1361.9h38.5v4.28h-38.5zM1674.6 1366.1h30.0v4.28h-30.0zM1678.9 1370.4h21.4v4.28h-21.4zM1683.2 1374.7h12.8v4.28h-12.8zM1687.5 1379.0h4.3v4.28h-4.3z" fill="#b010d8"/>
<path d="M1850.6 1323.4h4.3v4.28h-4.3zM1846.3 1327.7h12.8v4.28h-12.8zM1842.0 1332.0h21.4v4.28h-21.4zM1837.7 1336.3h30.0v4.28h-30.0zM1833.4 1340.6h38.5v4.28h-38.5zM1837.7 1344.8h30.0v4.28h-30.0zM1842.0 1349.1h21.4v4.28h-21.4zM1846.3 1353.4h12.8v4.28h-12.8zM1850.6 1357.7h4.3v4.28h-4.3z" fill="#b010d8"/>
<path d="M2013.2 1327.7h4.3v4.28h-4.3zM2008.9 1332.0h12.8v4.28h-12.8zM2004.6 1336.3h21.4v4.28h-21.4zM2000.3 1340.6h30.0v4.28h-30.0zM1996.0 1344.9h38.5v4.28h-38.5zM2000.3 1349.1h30.0v4.28h-30.0zM2004.6 1353.4h21.4v4.28h-21.4zM2008.9 1357.7h12.8v4.28h-12.8zM2013.2 1362.0h4.3v4.28h-4.3z" fill="#b010d8"/>
<path d="M419.9 535.0h4.3v4.28h-4.3zM415.6 539.3h4.3v4.28h-4.3zM424.1 539.3h4.3v4.28h-4.3zM415.6 543.6h4.3v4.28h-4.3zM424.1 543.6h4.3v4.28h-4.3zM411.3 547.9h4.3v4.28h-4.3zM428.4 547.9h4.3v4.28h-4.3zM407.0 552.2h4.3v4.28h-4.3zM432.7 552.2h4.3v4.28h-4.3zM407.0 556.4h4.3v4.28h-4.3zM432.7 556.4h4.3v4.28h-4.3zM402.7 560.7h38.5v4.28h-38.5z" fill="#0000d8"/>
<path d="M595.4 612.2h4.3v4.28h-4.3zM591.1 616.5h4.3v4.28h-4.3zM599.6 616.5h4.3v4.28h-4.3zM591.1 620.8h4.3v4.28h-4.3zM599.6 620.8h4.3v4.28h-4.3zM586.8 625.1h4.3v4.28h-4.3zM603.9 625.1h4.3v4.28h-4.3zM582.5 629.4h4.3v4.28h-4.3zM608.2 629.4h4.3v4.28h-4.3zM582.5 633.6h4.3v4.28h-4.3zM608.2 633.6h4.3v4.28h-4.3zM578.2 637.9h38.5v4.28h-38.5z" fill="#0000d8"/>
<path d="M766.7 625.0h4.3v4.28h-4.3zM762.4 629.3h4.3v4.28h-4.3zM770.9 629.3h4.3v4.28h-4.3zM762.4 633.6h4.3v4.28h-4.3zM770.9 633.6h4.3v4.28h-4.3zM758.1 637.9h4.3v4.28h-4.3zM775.2 637.9h4.3v4.28h-4.3zM753.8 642.2h4.3v4.28h-4.3zM779.5 642.2h4.3v4.28h-4.3zM753.8 646.4h4.3v4.28h-4.3zM779.5 646.4h4.3v4.28h-4.3zM749.5 650.7h38.5v4.28h-38.5z" fill="#0000d8"/>
<path d="M942.4 556.6h4.3v4.28h-4.3zM938.1 560.9h4.3v4.28h-4.3zM946.6 560.9h4.3v4.28h-4.3zM938.1 565.2h4.3v4.28h-4.3zM946.6 565.2h4.3v4.28h-4.3zM933.8 569.5h4.3v4.28h-4.3zM950.9 569.5h4.3v4.28h-4.3zM929.5 573.8h4.3v4.28h-4.3zM955.2 573.8h4.3v4.28h-4.3zM929.5 578.0h4.3v4.28h-4.3zM955.2 578.0h4.3v4.28h-4.3zM925.2 582.3h38.5v4.28h-38.5z" fill="#0000d8"/>
<path d="M1113.7 505.3h4.3v4.28h-4.3zM1109.4 509.6h4.3v4.28h-4.3zM1117.9 509.6h4.3v4.28h-4.3zM1109.4 513.9h4.3v4.28h-4.3zM1117.9 513.9h4.3v4.28h-4.3zM1105.1 518.2h4.3v4.28h-4.3zM1122.2 518.2h4.3v4.28h-4.3zM1100.8 522.5h4.3v4.28h-4.3zM1126.5 522.5h4.3v4.28h-4.3zM1100.8 526.7h4.3v4.28h-4.3zM1126.5 526.7h4.3v4.28h-4.3zM1096.5 531.0h38.5v4.28h-38.5z" fill="#0000d8"/>
<path d="M1284.9 487.7h4.3v4.28h-4.3zM1280.6 492.0h4.3v4.28h-4.3zM1289.1 492.0h4.3v4.28h-4.3zM1280.6 496.3h4.3v4.28h-4.3zM1289.1 496.3h4.3v4.28h-4.3zM1276.3 500.6h4.3v4.28h-4.3zM1293.4 500.6h4.3v4.28h-4.3zM1272.0 504.9h4.3v4.28h-4.3zM1297.7 504.9h4.3v4.28h-4.3zM1272.0 509.1h4.3v4.28h-4.3zM1297.7 509.1h4.3v4.28h-4.3zM1267.7 513.4h38.5v4.28h-38.5z" fill="#0000d8"/>
<path d="M1456.4 420.1h4.3v4.28h-4.3zM1452.1 424.4h4.3v4.28h-4.3zM1460.6 424.4h4.3v4.28h-4.3zM1452.1 428.7h4.3v4.28h-4.3zM1460.6 428.7h4.3v4.28h-4.3zM1447.8 433.0h4.3v4.28h-4.3zM1464.9 433.0h4.3v4.28h-4.3zM1443.5 437.3h4.3v4.28h-4.3zM1469.2 437.3h4.3v4.28h-4.3zM1443.5 441.5h4.3v4.28h-4.3zM1469.2 441.5h4.3v4.28h-4.3zM1439.2 445.8h38.5v4.28h-38.5z" fill="#0000d8"/>
<path d="M1627.5 407.1h4.3v4.28h-4.3zM1623.2 411.4h4.3v4.28h-4.3zM1631.7 411.4h4.3v4.28h-4.3zM1623.2 415.7h4.3v4.28h-4.3zM1631.7 415.7h4.3v4.28h-4.3zM1618.9 420.0h4.3v4.28h-4.3zM1636.0 420.0h4.3v4.28h-4.3zM1614.6 424.3h4.3v4.28h-4.3zM1640.3 424.3h4.3v4.28h-4.3zM1614.6 428.5h4.3v4.28h-4.3zM1640.3 428.5h4.3v4.28h-4.3zM1610.3 432.8h38.5v4.28h-38.5z" fill="#0000d8"/>
<path d="M1794.8 342.7h4.3v4.28h-4.3zM1790.5 347.0h4.3v4.28h-4.3zM1799.0 347.0h4.3v4.28h-4.3zM1790.5 351.3h4.3v4.28h-4.3zM1799.0 351.3h4.3v4.28h-4.3zM1786.2 355.6h4.3v4.28h-4.3zM1803.3 355.6h4.3v4.28h-4.3zM1781.9 359.9h4.3v4.28h-4.3zM1807.6 359.9h4.3v4.28h-4.3zM1781.9 364.1h4.3v4.28h-4.3zM1807.6 364.1h4.3v4.28h-4.3zM1777.6 368.4h38.5v4.28h-38.5z" fill="#0000d8"/>
<path d="M1966.3 303.8h4.3v4.28h-4.3zM1962.0 308.1h4.3v4.28h-4.3zM1970.5 308.1h4.3v4.28h-4.3zM1962.0 312.4h4.3v4.28h-4.3zM1970.5 312.4h4.3v4.28h-4.3zM1957.7 316.7h4.3v4.28h-4.3zM1974.8 316.7h4.3v4.28h-4.3zM1953.4 321.0h4.3v4.28h-4.3zM1979.1 321.0h4.3v4.28h-4.3zM1953.4 325.2h4.3v4.28h-4.3zM1979.1 325.2h4.3v4.28h-4.3zM1949.1 329.5h38.5v4.28h-38.5z" fill="#0000d8"/>
<path d="M415.6 1468.7h4.3v4.28h-4.3zM411.3 1473.0h12.8v4.28h-12.8zM411.3 1477.3h12.8v4.28h-12.8zM407.0 1481.6h21.4v4.28h-21.4zM402.7 1485.9h30.0v4.28h-30.0zM402.7 1490.1h30.0v4.28h-30.0zM398.4 1494.4h38.5v4.28h-38.5z" fill="#0000d8"/>
<path d="M505.0 1468.7h4.3v4.28h-4.3zM500.7 1473.0h12.8v4.28h-12.8zM500.7 1477.3h12.8v4.28h-12.8zM496.4 1481.6h21.4v4.28h-21.4zM492.1 1485.9h30.0v4.28h-30.0zM492.1 1490.1h30.0v4.28h-30.0zM487.8 1494.4h38.5v4.28h-38.5z" fill="#0000d8"/>
<path d="M591.4 1464.5h4.3v4.28h-4.3zM587.1 1468.8h12.8v4.28h-12.8zM587.1 1473.1h12.8v4.28h-12.8zM582.8 1477.4h21.4v4.28h-21.4zM578.5 1481.7h30.0v4.28h-30.0zM578.5 1485.9h30.0v4.28h-30.0zM574.2 1490.2h38.5v4.28h-38.5z" fill="#0000d8"/>
<path d="M766.9 1464.5h4.3v4.28h-4.3zM762.6 1468.8h12.8v4.28h-12.8zM762.6 1473.1h12.8v4.28h-12.8zM758.3 1477.4h21.4v4.28h-21.4zM754.0 1481.7h30.0v4.28h-30.0zM754.0 1485.9h30.0v4.28h-30.0zM749.7 1490.2h38.5v4.28h-38.5z" fill="#0000d8"/>
<path d="M938.3 1460.3h4.3v4.28h-4.3zM934.0 1464.6h12.8v4.28h-12.8zM934.0 1468.9h12.8v4.28h-12.8zM929.7 1473.2h21.4v4.28h-21.4zM925.4 1477.5h30.0v4.28h-30.0zM925.4 1481.7h30.0v4.28h-30.0zM921.1 1486.0h38.5v4.28h-38.5z" fill="#0000d8"/>
<path d="M1109.4 1451.5h4.3v4.28h-4.3zM1105.1 1455.8h12.8v4.28h-12.8zM1105.1 1460.1h12.8v4.28h-12.8zM1100.8 1464.4h21.4v4.28h-21.4zM1096.5 1468.7h30.0v4.28h-30.0zM1096.5 1472.9h30.0v4.28h-30.0zM1092.2 1477.2h38.5v4.28h-38.5z" fill="#0000d8"/>
<path d="M1280.7 1443.1h4.3v4.28h-4.3zM1276.4 1447.4h12.8v4.28h-12.8zM1276.4 1451.7h12.8v4.28h-12.8zM1272.1 1456.0h21.4v4.28h-21.4zM1267.8 1460.3h30.0v4.28h-30.0zM1267.8 1464.5h30.0v4.28h-30.0zM1263.5 1468.8h38.5v4.28h-38.5z" fill="#0000d8"/>
<path d="M1456.4 1434.5h4.3v4.28h-4.3zM1452.1 1438.8h12.8v4.28h-12.8zM1452.1 1443.1h12.8v4.28h-12.8zM1447.8 1447.4h21.4v4.28h-21.4zM1443.5 1451.7h30.0v4.28h-30.0zM1443.5 1455.9h30.0v4.28h-30.0zM1439.2 1460.2h38.5v4.28h-38.5z" fill="#0000d8"/>
<path d="M1623.5 1426.1h4.3v4.28h-4.3zM1619.2 1430.4h12.8v4.28h-12.8zM1619.2 1434.7h12.8v4.28h-12.8zM1614.9 1439.0h21.4v4.28h-21.4zM1610.6 1443.3h30.0v4.28h-30.0zM1610.6 1447.5h30.0v4.28h-30.0zM1606.3 1451.8h38.5v4.28h-38.5z" fill="#0000d8"/>
<path d="M1794.9 1413.4h4.3v4.28h-4.3zM1790.6 1417.7h12.8v4.28h-12.8zM1790.6 1422.0h12.8v4.28h-12.8zM1786.3 1426.3h21.4v4.28h-21.4zM1782.0 1430.6h30.0v4.28h-30.0zM1782.0 1434.8h30.0v4.28h-30.0zM1777.7 1439.1h38.5v4.28h-38.5z" fill="#0000d8"/>
<path d="M1961.8 1405.0h4.3v4.28h-4.3zM1957.5 1409.3h12.8v4.28h-12.8zM1957.5 1413.6h12.8v4.28h-12.8zM1953.2 1417.9h21.4v4.28h-21.4zM1948.9 1422.2h30.0v4.28h-30.0zM1948.9 1426.4h30.0v4.28h-30.0zM1944.6 1430.7h38.5v4.28h-38.5z" fill="#0000d8"/>
<path d="M505.3 145.1h21.4v4.28h-21.4zM501.0 149.4h8.6v4.28h-8.6zM522.4 149.4h8.6v4.28h-8.6zM496.7 153.7h8.6v4.28h-8.6zM526.7 153.7h8.6v4.28h-8.6zM496.7 158.0h4.3v4.28h-4.3zM531.0 158.0h4.3v4.28h-4.3zM496.7 162.3h4.3v4.28h-4.3zM531.0 162.3h4.3v4.28h-4.3zM496.7 166.5h4.3v4.28h-4.3zM531.0 166.5h4.3v4.28h-4.3zM496.7 170.8h8.6v4.28h-8.6zM526.7 170.8h8.6v4.28h-8.6zM501.0 175.1h8.6v4.28h-8.6zM522.4 175.1h8.6v4.28h-8.6zM505.3 179.4h21.4v4.28h-21.4z" fill="#ff066e"/>
<path d="M505.3 222.0h21.4v4.28h-21.4zM501.0 226.3h30.0v4.28h-30.0zM496.7 230.6h38.5v4.28h-38.5zM496.7 234.9h38.5v4.28h-38.5zM496.7 239.2h38.5v4.28h-38.5zM496.7 243.4h38.5v4.28h-38.5zM496.7 247.7h38.5v4.28h-38.5zM501.0 252.0h30.0v4.28h-30.0zM505.3 256.3h21.4v4.28h-21.4z" fill="#ff066e"/>
<path d="M963.9 145.1h4.3v4.28h-4.3zM959.6 149.4h4.3v4.28h-4.3zM968.1 149.4h4.3v4.28h-4.3zM955.3 153.7h4.3v4.28h-4.3zM972.4 153.7h4.3v4.28h-4.3zM951.0 158.0h4.3v4.28h-4.3zM976.7 158.0h4.3v4.28h-4.3zM946.7 162.3h4.3v4.28h-4.3zM981.0 162.3h4.3v4.28h-4.3zM951.0 166.5h4.3v4.28h-4.3zM976.7 166.5h4.3v4.28h-4.3zM955.3 170.8h4.3v4.28h-4.3zM972.4 170.8h4.3v4.28h-4.3zM959.6 175.1h4.3v4.28h-4.3zM968.1 175.1h4.3v4.28h-4.3zM963.9 179.4h4.3v4.28h-4.3z" fill="#b010d8"/>
<path d="M963.9 222.0h4.3v4.28h-4.3zM959.6 226.3h12.8v4.28h-12.8zM955.3 230.6h21.4v4.28h-21.4zM951.0 234.9h30.0v4.28h-30.0zM946.7 239.2h38.5v4.28h-38.5zM951.0 243.4h30.0v4.28h-30.0zM955.3 247.7h21.4v4.28h-21.4zM959.6 252.0h12.8v4.28h-12.8zM963.9 256.3h4.3v4.28h-4.3z" fill="#b010d8"/>
<path d="M1409.2 149.4h4.3v4.28h-4.3zM1404.9 153.7h4.3v4.28h-4.3zM1413.4 153.7h4.3v4.28h-4.3zM1404.9 158.0h4.3v4.28h-4.3zM1413.4 158.0h4.3v4.28h-4.3zM1400.6 162.3h4.3v4.28h-4.3zM1417.7 162.3h4.3v4.28h-4.3zM1396.3 166.6h4.3v4.28h-4.3zM1422.0 166.6h4.3v4.28h-4.3zM1396.3 170.8h4.3v4.28h-4.3zM1422.0 170.8h4.3v4.28h-4.3zM1392.0 175.1h38.5v4.28h-38.5z" fill="#0000d8"/>
<path d="M1409.2 226.5h4.3v4.28h-4.3zM1404.9 230.8h12.8v4.28h-12.8zM1404.9 235.1h12.8v4.28h-12.8zM1400.6 239.4h21.4v4.28h-21.4zM1396.3 243.7h30.0v4.28h-30.0zM1396.3 247.9h30.0v4.28h-30.0zM1392.0 252.2h38.5v4.28h-38.5z" fill="#0000d8"/>
<line x1="1734.6" y1="164.6" x2="1884.8" y2="164.6" stroke="#000" stroke-width="4.4"/>
<g font-family="Liberation Sans, Arial, sans-serif" font-weight="bold" font-size="59.5">
<g transform="translate(606.5 184) scale(1 1.035)"><text x="0" y="0" fill="#ff066e">SPS <tspan font-weight="normal">(</tspan>ab<tspan font-weight="normal">)</tspan></text></g>
<g transform="translate(606.5 261) scale(1 1.035)"><text x="0" y="0" fill="#ff066e">SPS <tspan font-weight="normal">(</tspan>c<tspan font-weight="normal">)</tspan></text></g>
<g transform="translate(1057.5 184) scale(1 1.035)"><text x="0" y="0" fill="#b010d8">SPT <tspan font-weight="normal">(</tspan>ab<tspan font-weight="normal">)</tspan></text></g>
<g transform="translate(1057.5 261) scale(1 1.035)"><text x="0" y="0" fill="#b010d8">SPT <tspan font-weight="normal">(</tspan>c<tspan font-weight="normal">)</tspan></text></g>
<g transform="translate(1498.7 184) scale(1 1.035)"><text x="0" y="0" fill="#0000d8" textLength="199.5" lengthAdjust="spacing">HP<tspan font-weight="normal">(</tspan>ab<tspan font-weight="normal">)</tspan></text></g>
<g transform="translate(1498.7 261) scale(1 1.035)"><text x="0" y="0" fill="#0000d8" textLength="176.2" lengthAdjust="spacing">HP <tspan font-weight="normal">(</tspan>c<tspan font-weight="normal">)</tspan></text></g>
<g transform="translate(1894.4 184) scale(1 1.035)"><text x="0" y="0" fill="#000">NS</text></g>
</g>
<g transform="translate(1151.5 1708.5) scale(1 1.045)"><text x="0" y="0" font-family="Liberation Sans, Arial, sans-serif" font-weight="bold" font-size="77">T <tspan font-weight="normal">(</tspan>K<tspan font-weight="normal">)</tspan></text></g>
<g transform="translate(111.4 1040) rotate(-90) scale(1 1.03)"><text x="0" y="0" font-family="Liberation Sans, Arial, sans-serif" font-weight="bold" font-size="77">PF <tspan font-weight="normal">(</tspan>μW/m/K<tspan font-size="52" font-weight="normal" dy="-44" dx="5">2</tspan><tspan dy="44" dx="0" font-weight="normal">)</tspan></text></g>
</svg>
</body></html>
